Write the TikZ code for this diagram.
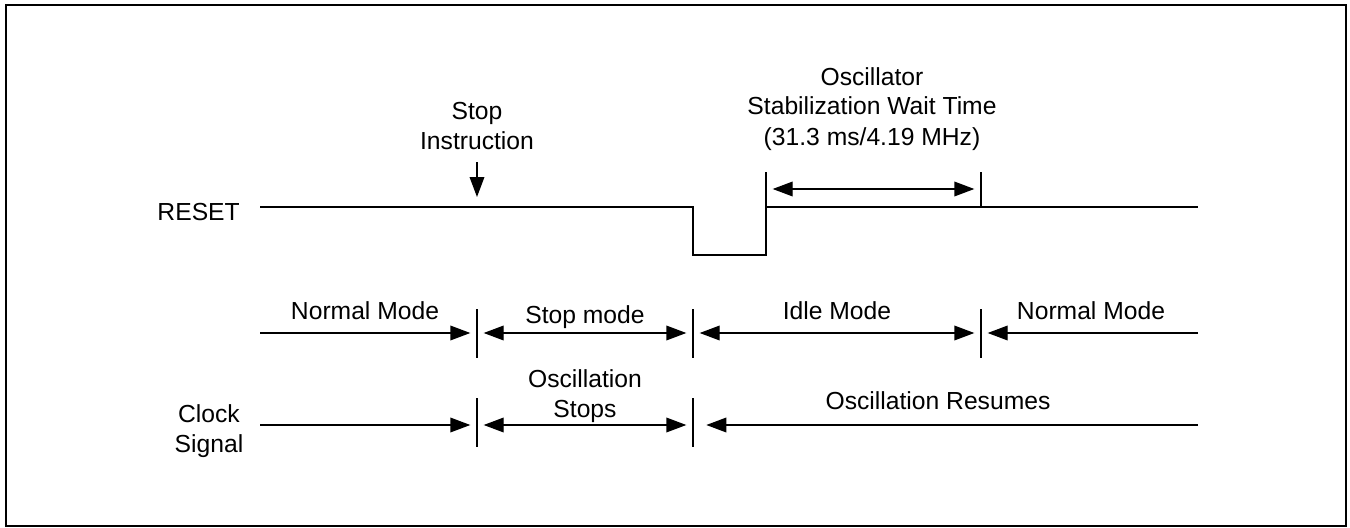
\documentclass[tikz,border=0pt]{standalone}
\usepackage{fontspec}
\setmainfont{Liberation Sans}
\usetikzlibrary{arrows.meta, positioning}
\tikzset{
    font=\fontsize{18.5}{22.5}\selectfont,
    >={Triangle[length=15pt, width=11pt]},
    % Lines
    frame/.style={line width=1.5pt},
    wave/.style={line width=1pt},
    tickline/.style={line width=1pt},
    flow/.style={->, line width=1pt, shorten >=5pt},
    span/.style={<->, line width=1pt, shorten >=5pt, shorten <=5pt},
    % Labels
    lbl/.style={inner sep=0pt, align=center, anchor=base}
}
\begin{document}
\begin{tikzpicture}[x=0.75pt, y=-0.75pt]
\useasboundingbox (0,0) rectangle (1350,528);
\draw[frame] (6,5) rectangle (1346,526);

% Labels (base = last line)
\node[lbl, anchor=base east] (reset) at (240,220) {RESET};
\node[lbl] (stopins) at (477,150) {Stop\\Instruction};
\node[lbl] (osc) at (872,145) {Oscillator\\Stabilization Wait Time\\(31.3 ms/4.19 MHz)};
\node[lbl] (normal1) at (365,319) {Normal Mode};
\node[lbl] (stopmode) at (585,323) {Stop mode};
\node[lbl] (idle) at (837,319) {Idle Mode};
\node[lbl] (normal2) at (1091,319) {Normal Mode};
\node[lbl] (clock) at (209,452) {Clock\\Signal};
\node[lbl] (oscstop) at (585,417) {Oscillation\\Stops};
\node[lbl] (oscres) at (938,409) {Oscillation Resumes};

% RESET waveform
\coordinate (r0) at (260,207);
\coordinate (rfall) at (693,207);
\coordinate (rlow1) at (693,255);
\coordinate (rlow2) at (766,255);
\coordinate (rrise) at (766,207);
\coordinate (r1) at (1198,207);
\coordinate (wtop1) at (766,172);
\coordinate (wtop2) at (981,172);
\coordinate (wbot2) at (981,207);
\draw[wave] (r0) -- (rfall) -- (rlow1) -- (rlow2) -- (wtop1);
\draw[wave] (rrise) -- (r1);
\draw[tickline] (wtop2) -- (wbot2);

% Stop instruction and wait time
\coordinate (sa1) at (477,162);
\coordinate (sa2) at (477,197);
\draw[flow, shorten >=0pt] (sa1) -- (sa2);
\coordinate (wa1) at (766,189);
\coordinate (wa2) at (981,189);
\draw[span] (wa1) -- (wa2);

% Mode row
\foreach \x/\n in {477/a, 693/b, 981/c} {
    \draw[tickline] (\x,309) -- (\x,358);
    \coordinate (m\n) at (\x,333);
}
\coordinate (m0) at (260,333);
\coordinate (m1) at (1198,333);
\draw[flow] (m0) -- (ma);
\draw[span] (ma) -- (mb);
\draw[span] (mb) -- (mc);
\draw[flow] (m1) -- (mc);

% Clock row
\foreach \x/\n in {477/a, 693/b} {
    \draw[tickline] (\x,398) -- (\x,447);
    \coordinate (c\n) at (\x,425);
}
\coordinate (c0) at (260,425);
\coordinate (c1) at (1198,425);
\draw[flow] (c0) -- (ca);
\draw[span] (ca) -- (cb);
\draw[flow, shorten >=10pt] (c1) -- (cb);

\end{tikzpicture}
\end{document}
